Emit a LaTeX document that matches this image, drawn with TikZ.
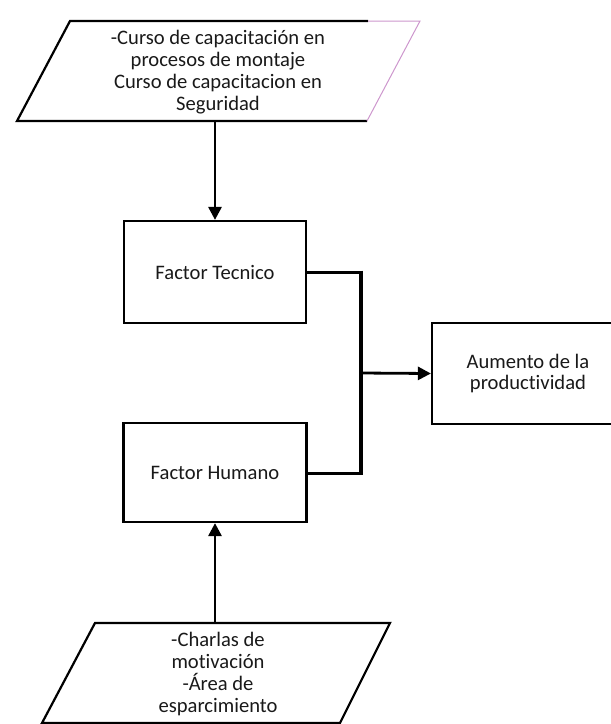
\documentclass[tikz,border=0pt]{standalone}
\usepackage{fontspec}
\setmainfont{Carlito}[Ligatures={NoCommon}]
\usetikzlibrary{arrows.meta}
\definecolor{edgepink}{RGB}{205,150,205}
\definecolor{ink}{RGB}{25,25,25}
\tikzset{
  px/.style={x=1pt,y=-1pt},
  boxnode/.style={draw=black,line width=2.2pt,rectangle,align=center,
    font=\fontsize{20.6}{21.5}\selectfont,text=ink,inner sep=0pt},
  label/.style={align=center,font=\fontsize{20.6}{21.9}\selectfont,text=ink,inner sep=0pt},
  shapeedge/.style={draw=black,line width=2.2pt,line join=miter},
  thinedge/.style={draw=edgepink,line width=1pt},
  flow/.style={draw=black,line width=2.8pt,-{Triangle[length=13pt,width=13pt]}},
  busline/.style={draw=black,line width=3pt},
  busbar/.style={draw=black,line width=4.5pt}
}
\begin{document}
\begin{tikzpicture}[px]
\useasboundingbox (0,0) rectangle (611,724);
\clip (0,0) rectangle (611,724);

% input: training courses
\coordinate (c1) at (17,121);
\coordinate (c2) at (70,21);
\coordinate (c3) at (368,21);
\coordinate (c4) at (420,21);
\coordinate (c5) at (367,121);
\draw[shapeedge] (c5) -- (c1) -- (c2) -- (c3);
\draw[thinedge] (c3) -- (c4) -- (c5);
\node[label] (cursos) at (218,72) {-Curso de capacitación en\\procesos de montaje\\Curso de capacitacion en\\Seguridad};

% factors
\node[boxnode,minimum width=182pt,minimum height=102pt] (tec) at (215,272) {Factor Tecnico};
\node[boxnode,minimum width=183pt,minimum height=99pt] (hum) at (215,472.5) {Factor Humano};

% result
\node[boxnode,minimum width=192pt,minimum height=101pt] (aum) at (528,373.5) {Aumento de la\\productividad};

% input: motivation
\coordinate (d1) at (95,623);
\coordinate (d2) at (390,623);
\coordinate (d3) at (340,723);
\coordinate (d4) at (42,723);
\draw[shapeedge] (d1) -- (d2) -- (d3) -- (d4) -- cycle;
\node[label] (charlas) at (218,674) {-Charlas de\\motivación\\-Área de\\esparcimiento};

% connectors
\coordinate (topout) at (215,121);
\coordinate (botout) at (215,623);
\draw[flow] (tec.north |- topout) -- (tec.north);
\draw[flow] (hum.south |- botout) -- (hum.south);

\coordinate (bt) at (361,272);
\coordinate (bb) at (361,473);
\coordinate (bx) at (361,373);
\draw[busline] (tec.east) -- (bt);
\draw[busline] (hum.east |- bb) -- (bb);
\draw[busbar] ([yshift=1.5pt]bt) -- ([yshift=-1.5pt]bb);
\draw[flow] (bx) -- (aum.west);
\end{tikzpicture}
\end{document}
